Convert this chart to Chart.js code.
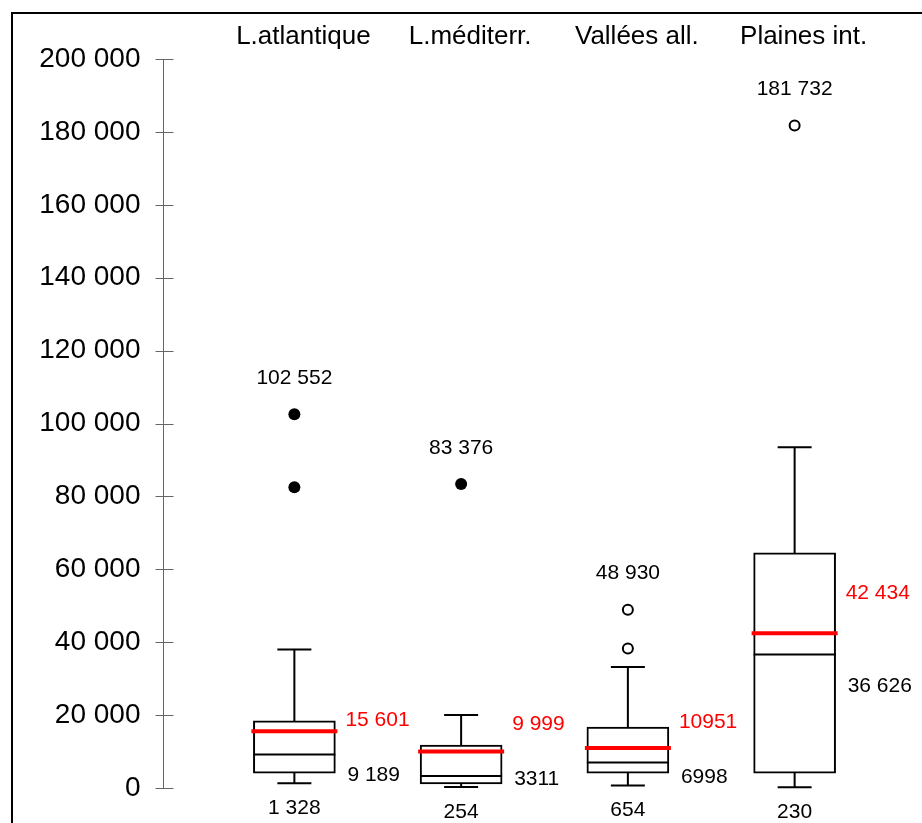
<!DOCTYPE html>
<html>
<head>
<meta charset="utf-8">
<script src="https://cdn.jsdelivr.net/npm/chart.js@4.4.1/dist/chart.umd.min.js"></script>
<style>
  body { margin: 0; background: #fff; }
  #wrap { width: 922px; height: 823px; position: relative; }
</style>
</head>
<body>
<div id="wrap"><canvas id="boxChart"></canvas></div>
<script>
// box plot data per zone
const categories = ['L.atlantique', 'L.méditerr.', 'Vallées all.', 'Plaines int.'];
const minValues = [1328, 254, 654, 230];
const q1Values = [4100, 1100, 4100, 4100];
const medianValues = [9189, 3311, 6998, 36626];
const q3Values = [18400, 11800, 16700, 64500];
const maxValues = [38000, 20000, 33200, 93500];
const meanValues = [15601, 9999, 10951, 42434];
const outlierValues = [[102552, 82500], [83376], [48930, 38300], [181732]];
const outlierFilled = [true, true, false, false];

// texts printed next to the boxes
const minLabels = ['1 328', '254', '654', '230'];
const medianLabels = ['9 189', '3311', '6998', '36 626'];
const meanLabels = ['15 601', '9 999', '10951', '42 434'];
const outlierLabels = ['102 552', '83 376', '48 930', '181 732'];

const yMin = 0;
const yMax = 200000;
const yStep = 20000;

const FONT = "'Liberation Sans', Arial, sans-serif";

function fmt(v) {
    return String(v).replace(/\B(?=(\d{3})+(?!\d))/g, ' ');
}

const filledPoints = [];
const openPoints = [];
outlierValues.forEach((vals, i) => {
    vals.forEach(v => {
        const p = { x: categories[i], y: v };
        if (outlierFilled[i]) filledPoints.push(p); else openPoints.push(p);
    });
});

// frame, axis, whiskers, medians, means and the value texts
const boxPlugin = {
    id: 'boxExtras',
    beforeDraw(chart) {
        const ctx = chart.ctx;
        ctx.save();
        ctx.strokeStyle = '#000';
        ctx.lineWidth = 2;
        ctx.strokeRect(12, 13, 2000, 2000);
        ctx.restore();
    },
    beforeDatasetsDraw(chart) {
        const ctx = chart.ctx;
        const y = chart.scales.y;
        const x = chart.scales.x;
        const ax = Math.round(chart.chartArea.left - 48) + 0.5;
        ctx.save();

        // y axis with ticks crossing the line
        ctx.strokeStyle = '#666';
        ctx.lineWidth = 1;
        ctx.beginPath();
        ctx.moveTo(ax, y.getPixelForValue(yMin));
        ctx.lineTo(ax, y.getPixelForValue(yMax));
        y.ticks.forEach(t => {
            const py = Math.round(y.getPixelForValue(t.value)) + 0.5;
            ctx.moveTo(ax - 8, py);
            ctx.lineTo(ax + 10, py);
        });
        ctx.stroke();

        ctx.fillStyle = '#000';
        ctx.font = '28px ' + FONT;
        ctx.textAlign = 'right';
        ctx.textBaseline = 'middle';
        y.ticks.forEach(t => {
            ctx.fillText(fmt(t.value), ax - 23, y.getPixelForValue(t.value));
        });

        // category names above the plot
        ctx.font = '26px ' + FONT;
        ctx.textAlign = 'center';
        categories.forEach((c, i) => {
            ctx.fillText(c, x.getPixelForValue(i) + 9, chart.chartArea.top - 22);
        });

        // whiskers
        ctx.strokeStyle = '#000';
        ctx.lineWidth = 2;
        categories.forEach((c, i) => {
            const cx = x.getPixelForValue(i);
            ctx.beginPath();
            ctx.moveTo(cx, y.getPixelForValue(q3Values[i]));
            ctx.lineTo(cx, y.getPixelForValue(maxValues[i]));
            ctx.moveTo(cx - 17, y.getPixelForValue(maxValues[i]));
            ctx.lineTo(cx + 17, y.getPixelForValue(maxValues[i]));
            ctx.moveTo(cx, y.getPixelForValue(q1Values[i]));
            ctx.lineTo(cx, y.getPixelForValue(minValues[i]));
            ctx.moveTo(cx - 17, y.getPixelForValue(minValues[i]));
            ctx.lineTo(cx + 17, y.getPixelForValue(minValues[i]));
            ctx.stroke();
        });
        ctx.restore();
    },
    afterDatasetsDraw(chart) {
        const ctx = chart.ctx;
        const y = chart.scales.y;
        const x = chart.scales.x;
        const bars = chart.getDatasetMeta(0).data;
        ctx.save();
        categories.forEach((c, i) => {
            const cx = x.getPixelForValue(i);
            const half = bars[i].width / 2;

            const medPx = y.getPixelForValue(medianValues[i]);
            ctx.strokeStyle = '#000';
            ctx.lineWidth = 2;
            ctx.beginPath();
            ctx.moveTo(cx - half, medPx);
            ctx.lineTo(cx + half, medPx);
            ctx.stroke();

            const meanPx = y.getPixelForValue(meanValues[i]);
            ctx.strokeStyle = '#ff0000';
            ctx.lineWidth = 4;
            ctx.beginPath();
            ctx.moveTo(cx - half - 2, meanPx);
            ctx.lineTo(cx + half + 2, meanPx);
            ctx.stroke();

            // texts
            const minPx = y.getPixelForValue(minValues[i]);
            const q3Px = y.getPixelForValue(q3Values[i]);
            const medLabelY = Math.min(medPx + 32, minPx - 8);
            const meanLabelY = Math.min((q3Px + meanPx) / 2, medLabelY - 55);

            ctx.font = '21px ' + FONT;
            ctx.textBaseline = 'middle';
            ctx.textAlign = 'left';
            ctx.fillStyle = '#ff0000';
            ctx.fillText(meanLabels[i], cx + half + 10, meanLabelY);
            ctx.fillStyle = '#000';
            ctx.fillText(medianLabels[i], cx + half + 12, medLabelY);

            ctx.textAlign = 'center';
            ctx.fillText(minLabels[i], cx, minPx + 25);
            const topOut = Math.max(...outlierValues[i]);
            ctx.fillText(outlierLabels[i], cx, y.getPixelForValue(topOut) - 36);
        });
        ctx.restore();
    }
};

const ctx = document.getElementById('boxChart').getContext('2d');
new Chart(ctx, {
    type: 'bar',
    data: {
        labels: categories,
        datasets: [{
            type: 'bar',
            data: q1Values.map((q, i) => [q, q3Values[i]]),
            backgroundColor: '#fff',
            borderColor: '#000',
            borderWidth: 2,
            borderSkipped: false,
            barThickness: 82
        }, {
            type: 'scatter',
            data: filledPoints,
            pointRadius: 6,
            backgroundColor: '#000',
            borderColor: '#000',
            borderWidth: 0
        }, {
            type: 'scatter',
            data: openPoints,
            pointRadius: 5,
            backgroundColor: '#fff',
            borderColor: '#000',
            borderWidth: 2
        }]
    },
    options: {
        responsive: true,
        maintainAspectRatio: false,
        animation: false,
        layout: { padding: { left: 211, right: 44, top: 59, bottom: 35 } },
        plugins: {
            legend: { display: false },
            tooltip: { enabled: false }
        },
        scales: {
            x: {
                type: 'category',
                offset: true,
                display: false
            },
            y: {
                min: yMin,
                max: yMax,
                display: false,
                ticks: { stepSize: yStep }
            }
        }
    },
    plugins: [boxPlugin]
});
</script>
</body>
</html>
